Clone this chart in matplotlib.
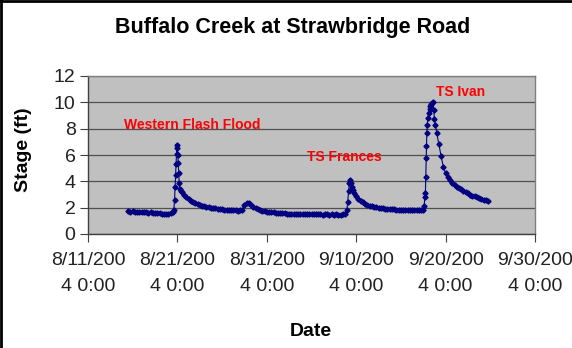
import matplotlib
matplotlib.use("Agg")
import matplotlib.pyplot as plt
from datetime import datetime, timedelta

plt.rcParams['font.family'] = ['Liberation Sans', 'DejaVu Sans']

# ---- data (days after 2004-08-11 00:00, stage in ft) ----
days = [4.5, 4.75, 5.0, 5.25, 5.5, 5.75, 6.0, 6.25, 6.5, 6.75, 7.0, 7.25, 7.5, 7.75, 8.0, 8.25, 8.5, 8.75, 9.0, 9.25, 9.5,
        9.6, 9.68, 9.74, 9.8, 9.85, 9.9, 9.95, 10.0, 10.05, 10.1, 10.15, 10.2, 10.3, 10.4, 10.5,
        10.75, 11.0, 11.25, 11.5, 11.75, 12.0, 12.25, 12.5, 12.75, 13.0, 13.25, 13.5, 13.75, 14.0, 14.25, 14.5, 14.75,
        15.0, 15.25, 15.5, 15.75, 16.0, 16.25, 16.5, 16.75, 17.0, 17.25,
        17.5, 17.75, 18.0, 18.25, 18.5, 18.75, 19.0, 19.25, 19.5, 19.75, 20.0, 20.25, 20.5, 20.75, 21.0, 21.25, 21.5, 21.75, 22.0,
        22.25, 22.5, 22.75, 23.0, 23.25, 23.5, 23.75, 24.0, 24.25, 24.5, 24.75, 25.0, 25.25, 25.5, 25.75, 26.0, 26.25, 26.5,
        26.75, 27.0, 27.25, 27.5, 27.75, 28.0, 28.25, 28.5, 28.75,
        28.95, 29.05, 29.15, 29.25, 29.32, 29.4, 29.5, 29.6, 29.75, 30.0, 30.25, 30.5, 30.75, 31.0, 31.25, 31.5, 31.75, 32.0,
        32.25, 32.5, 32.75, 33.0, 33.25, 33.5, 33.75, 34.0,
        34.25, 34.5, 34.75, 35.0, 35.25, 35.5, 35.75, 36.0, 36.25, 36.5, 36.75, 37.0, 37.25, 37.5,
        37.6, 37.68, 37.74, 37.78, 37.82, 37.86, 37.9, 37.95, 38.0, 38.1, 38.2, 38.3, 38.4, 38.5, 38.6, 38.68, 38.75, 38.85, 39.0,
        39.25, 39.5, 39.75, 40.0, 40.25, 40.5, 40.75, 41.0, 41.25, 41.5, 41.75, 42.0, 42.25, 42.5, 42.75, 43.0,
        43.25, 43.5, 43.75, 44.0, 44.25, 44.5, 44.7]
stage = [1.72, 1.70, 1.71, 1.68, 1.70, 1.66, 1.68, 1.65, 1.66, 1.62, 1.64, 1.60, 1.62, 1.58, 1.60, 1.55, 1.50, 1.52, 1.55, 1.60, 1.65,
         1.80, 2.60, 3.60, 4.50, 5.30, 6.10, 6.75, 6.50, 6.00, 5.40, 4.60, 3.90, 3.40, 3.30, 3.20,
         3.00, 2.80, 2.65, 2.52, 2.42, 2.33, 2.26, 2.20, 2.15, 2.10, 2.06, 2.02, 2.00, 1.97, 1.95, 1.92, 1.90,
         1.88, 1.86, 1.85, 1.83, 1.82, 1.80, 1.80, 1.78, 1.80, 1.86,
         2.20, 2.38, 2.32, 2.18, 2.05, 1.95, 1.88, 1.82, 1.78, 1.74, 1.70, 1.68, 1.65, 1.64, 1.62, 1.60, 1.58, 1.57, 1.56,
         1.55, 1.54, 1.55, 1.53, 1.52, 1.53, 1.52, 1.50, 1.52, 1.51, 1.50, 1.50, 1.52, 1.50, 1.49, 1.50, 1.48, 1.50,
         1.49, 1.48, 1.50, 1.48, 1.49, 1.48, 1.47, 1.50, 1.55,
         1.80, 2.40, 3.30, 3.90, 4.10, 3.85, 3.55, 3.35, 3.10, 2.85, 2.65, 2.50, 2.40, 2.30, 2.22, 2.15, 2.10, 2.05,
         2.02, 2.00, 1.97, 1.95, 1.93, 1.92, 1.90, 1.88,
         1.87, 1.86, 1.85, 1.85, 1.84, 1.83, 1.83, 1.82, 1.82, 1.81, 1.80, 1.80, 1.80, 1.82,
         2.10, 2.80, 3.10, 4.30, 5.80, 6.70, 7.70, 8.30, 8.80, 9.20, 9.50, 9.70, 9.85, 9.95, 10.05, 9.40, 8.70, 8.30, 7.70,
         6.80, 5.90, 5.10, 4.60, 4.30, 4.10, 3.90, 3.75, 3.60, 3.48, 3.38, 3.28, 3.18, 3.08, 3.00, 2.92,
         2.85, 2.78, 2.72, 2.66, 2.60, 2.55, 2.50]

tick_labels = ["8/11/200\n4 0:00", "8/21/200\n4 0:00", "8/31/200\n4 0:00",
               "9/10/200\n4 0:00", "9/20/200\n4 0:00", "9/30/200\n4 0:00"]
tick_days = [0, 10, 20, 30, 40, 50]
y_ticks = [0, 2, 4, 6, 8, 10, 12]

events = ["Western Flash Flood", "TS Frances", "TS Ivan"]
event_day = [4.0, 24.5, 38.9]
event_y = [8.3, 5.85, 10.8]

title = "Buffalo Creek at Strawbridge Road"

# ---- figure ----
base = datetime(2004, 8, 11)
x = [base + timedelta(days=d) for d in days]
xt = [base + timedelta(days=d) for d in tick_days]

fig = plt.figure(figsize=(5.72, 3.48), dpi=100)
fig.patch.set_facecolor('white')
ax = fig.add_axes([88/572, 1-234/348, (535-88)/572, (234-76)/348])
ax.set_facecolor('#c0c0c0')

ax.plot(x, stage, color='#000080', lw=0.8, marker='D', ms=2.6, mec='#000080', mfc='#000080', zorder=3)

ax.set_xlim(xt[0], xt[-1])
ax.set_ylim(0, 12)
ax.set_xticks(xt)
ax.set_xticklabels(tick_labels, fontsize=14, linespacing=1.68, color='#222222')
ax.set_yticks(y_ticks)
ax.set_yticklabels([str(v) for v in y_ticks], fontsize=14, color='#222222')
ax.tick_params(axis='both', direction='out', length=6, width=0.8, color='#404040')
ax.tick_params(axis='x', pad=7)
ax.tick_params(axis='y', pad=3)
ax.yaxis.grid(True, color='#505050', lw=0.9)
ax.set_axisbelow(True)
for s in ax.spines.values():
    s.set_color('#808080')
    s.set_linewidth(1.0)
ax.spines['left'].set_color('#404040')
ax.spines['bottom'].set_color('#404040')

for t, d, yv in zip(events, event_day, event_y):
    ax.text(base + timedelta(days=d), yv, t, color='#ff0000', fontsize=10, fontweight='bold',
            ha='left', va='center', zorder=4)

fig.text(293/572, 1-27/348, title, ha='center', va='center', fontsize=15.5, fontweight='bold')
fig.text(24/572, 1-150/348, "Stage (ft)", ha='center', va='center', rotation=90, fontsize=14, fontweight='bold')
fig.text(311/572, 1-332/348, "Date", ha='center', va='center', fontsize=14, fontweight='bold')

# outer border (top and left)
fig.add_artist(plt.Line2D([0, 1], [0.998, 0.998], transform=fig.transFigure, color='black', lw=2))
fig.add_artist(plt.Line2D([0.002, 0.002], [0, 1], transform=fig.transFigure, color='black', lw=2))

fig.savefig("out.png", dpi=100, facecolor='white')
